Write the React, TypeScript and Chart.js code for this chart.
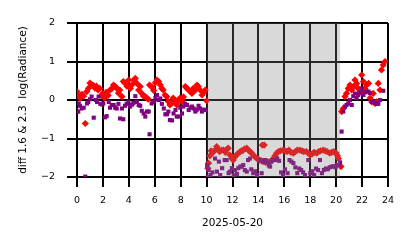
import React, { useEffect, useRef } from "react";
import { Chart, registerables } from "chart.js";

Chart.register(...registerables);

// ---- data ----
const redHours = [
  0.0, 0.12, 0.25, 0.38, 0.5, 0.64, 0.75, 0.88, 1.0, 1.12, 1.25, 1.39, 1.5, 1.62, 1.75, 1.88,
  2.0, 2.12, 2.25, 2.4, 2.55, 2.7, 2.82, 2.96, 3.08, 3.2, 3.3, 3.47, 3.57, 3.73, 3.85, 3.99,
  4.12, 4.25, 4.38, 4.5, 4.63, 4.76, 4.88, 5.0, 5.14, 5.27, 5.4, 5.5, 5.6, 5.79, 5.92, 6.05,
  6.17, 6.3, 6.43, 6.55, 6.65, 6.8, 6.92, 7.05, 7.17, 7.3, 7.42, 7.56, 7.7, 7.8, 7.95, 8.1,
  8.22, 8.36, 8.5, 8.62, 8.75, 8.87, 8.97, 9.1, 9.26, 9.36, 9.5, 9.65, 9.78, 9.9, 10.0,
  10.1, 10.15, 10.25, 10.35, 10.5, 10.65, 10.78, 10.9, 11.0, 11.15, 11.3, 11.45, 11.55, 11.67,
  11.8, 11.94, 12.06, 12.18, 12.3, 12.45, 12.6, 12.72, 12.83, 12.95, 13.1, 13.22, 13.35, 13.48,
  13.6, 13.75, 13.87, 14.0, 14.1, 14.25, 14.3, 14.45, 14.37, 14.55, 14.7, 14.9, 15.05, 15.15,
  15.28, 15.4, 15.55, 15.7, 15.9, 16.05, 16.2, 16.35, 16.5, 16.7, 16.85, 17.0, 17.2, 17.35,
  17.5, 17.7, 17.85, 18.0, 18.15, 18.3, 18.5, 18.65, 18.8, 19.0, 19.15, 19.3, 19.5, 19.65,
  19.8, 20.0, 20.1, 20.17, 20.37,
  20.42, 20.55, 20.68, 20.8, 20.93, 21.06, 21.2, 21.32, 21.45, 21.58, 21.7, 21.83, 21.97, 22.1,
  22.22, 22.35, 22.5, 22.62, 22.75, 22.86, 23.0, 23.12, 23.25, 23.38, 23.5, 23.63, 23.77,
];
const redValues = [
  0.22, 0.12, 0.05, 0.15, 0.1, -0.61, 0.22, 0.3, 0.44, 0.4, 0.38, 0.31, 0.36, 0.26, 0.3, 0.12,
  0.17, 0.05, 0.2, 0.12, 0.26, 0.3, 0.39, 0.35, 0.3, 0.18, 0.26, 0.09, 0.48, 0.43, 0.36, 0.52,
  0.3, 0.4, 0.52, 0.56, 0.43, 0.26, 0.35, 0.17, 0.1, 0.09, 0.05, 0.02, 0.39, 0.33, 0.25, 0.45,
  0.52, 0.48, 0.39, 0.3, 0.26, 0.13, 0.09, -0.04, -0.13, -0.09, 0.05, 0.0, -0.13, -0.04, 0.05, -0.04,
  0.08, 0.35, 0.3, 0.26, 0.22, 0.17, 0.3, 0.25, 0.39, 0.35, 0.26, 0.13, 0.2, 0.26, -0.02,
  -1.77, -1.64, -1.45, -1.32, -1.36, -1.3, -1.21, -1.28, -1.34, -1.3, -1.3, -1.36, -1.28, -1.25,
  -1.43, -1.52, -1.56, -1.48, -1.43, -1.38, -1.34, -1.32, -1.3, -1.27, -1.25, -1.3, -1.34, -1.38,
  -1.43, -1.48, -1.52, -1.54, -1.56, -1.58, -1.17, -1.17, -1.6, -1.62, -1.6, -1.6, -1.56, -1.52,
  -1.45, -1.38, -1.34, -1.32, -1.3, -1.32, -1.34, -1.3, -1.36, -1.38, -1.34, -1.3, -1.3, -1.32,
  -1.34, -1.34, -1.38, -1.43, -1.4, -1.36, -1.38, -1.34, -1.32, -1.3, -1.32, -1.34, -1.38, -1.36,
  -1.34, -1.38, -1.45, -1.52, -1.73,
  -0.3, -0.22, 0.09, 0.17, 0.3, 0.39, 0.26, 0.35, 0.52, 0.43, 0.3, 0.2, 0.65, 0.48,
  0.3, 0.39, 0.43, 0.05, -0.05, 0.17, -0.09, -0.05, 0.43, 0.26, 0.78, 0.91, 1.0,
];

const purpleHours = [
  0.0, 0.1, 0.13, 0.23, 0.36, 0.52, 0.64, 0.77, 0.87, 1.0, 1.13, 1.29, 1.45, 1.55, 1.67, 1.8,
  1.95, 2.03, 2.16, 2.29, 2.45, 2.55, 2.68, 2.83, 2.95, 3.06, 3.2, 3.32, 3.47, 3.57, 3.7, 3.83,
  3.96, 4.1, 4.25, 4.35, 4.5, 4.62, 4.76, 4.88, 5.0, 5.14, 5.27, 5.4, 5.53, 5.6, 5.76, 5.9,
  6.05, 6.17, 6.3, 6.43, 6.55, 6.7, 6.82, 6.95, 7.05, 7.17, 7.33, 7.45, 7.6, 7.7, 7.85, 7.97,
  8.1, 8.2, 8.35, 8.49, 8.62, 8.75, 8.87, 9.0, 9.13, 9.25, 9.38, 9.5, 9.65, 9.78, 9.9,
  10.05, 10.1, 10.15, 10.3, 10.45, 10.65, 10.8, 10.95, 11.05, 11.2, 11.4, 11.55, 11.7, 11.8,
  11.95, 12.1, 12.2, 12.35, 12.45, 12.6, 12.7, 12.83, 12.95, 13.1, 13.2, 13.35, 13.45, 13.6,
  13.75, 13.9, 14.1, 14.25, 14.37, 14.5, 14.65, 14.8, 14.9, 15.0, 15.15, 15.3, 15.45, 15.6,
  15.75, 15.9, 16.05, 16.25, 16.4, 16.55, 16.7, 16.85, 17.0, 17.15, 17.3, 17.45, 17.6, 17.85,
  18.0, 18.15, 18.3, 18.45, 18.6, 18.75, 18.9, 19.05, 19.2, 19.35, 19.5, 19.65, 19.8, 19.95,
  20.05, 20.17, 20.3,
  20.42, 20.55, 20.68, 20.8, 20.93, 21.06, 21.2, 21.32, 21.45, 21.58, 21.7, 21.83, 21.97, 22.1,
  22.22, 22.35, 22.5, 22.6, 22.75, 22.86, 23.0, 23.1, 23.25, 23.38, 23.63,
];
const purpleValues = [
  -0.3, -0.3, -0.09, -0.15, -0.22, -0.2, -1.99, -0.09, -0.05, 0.02, 0.09, -0.46, 0.0, -0.05, 0.09, -0.1,
  -0.12, -0.09, -0.45, -0.42, -0.05, -0.2, -0.13, -0.13, -0.2, -0.22, -0.1, -0.48, -0.22, -0.5, -0.15, -0.1,
  -0.04, -0.17, -0.12, -0.08, 0.1, -0.05, -0.13, -0.15, -0.28, -0.35, -0.43, -0.3, -0.3, -0.89, -0.09, -0.05,
  0.05, 0.13, 0.0, 0.04, -0.1, -0.22, -0.37, -0.37, -0.3, -0.52, -0.53, -0.35, -0.26, -0.43, -0.43, -0.2,
  -0.35, -0.17, -0.1, -0.13, -0.26, -0.2, -0.17, -0.22, -0.3, -0.25, -0.15, -0.22, -0.3, -0.25, -0.26,
  -1.7, -2.0, -1.82, -1.95, -1.88, -1.52, -1.86, -1.6, -1.95, -1.77, -1.56, -1.56, -1.9, -1.86,
  -1.77, -1.95, -1.82, -1.92, -1.77, -1.73, -1.73, -1.69, -1.82, -1.86, -1.56, -1.52, -1.8, -1.9,
  -1.85, -1.95, -1.56, -1.9, -1.6, -1.56, -1.62, -1.7, -1.73, -1.6, -1.56, -1.56, -1.52, -1.58,
  -1.88, -1.95, -1.8, -1.9, -1.56, -1.6, -1.64, -1.75, -1.9, -1.78, -1.82, -1.88, -1.95, -1.56,
  -1.9, -1.85, -1.95, -1.78, -1.82, -1.56, -1.9, -1.82, -1.78, -1.8, -1.75, -1.73, -1.72, -1.75,
  -1.7, -1.69, -1.62,
  -0.82, -0.3, -0.17, -0.13, -0.09, 0.0, -0.13, 0.1, 0.17, 0.05, 0.13, 0.2, 0.3, 0.13,
  0.2, 0.22, 0.22, 0.18, -0.05, -0.04, -0.08, -0.09, -0.1, 0.0, 0.24,
];

const xTickValues = [0, 2, 4, 6, 8, 10, 12, 14, 16, 18, 20, 22, 24];
const yTickValues = [-2, -1, 0, 1, 2];
const shadeStart = 10;
const shadeEnd = 20.3;
const xLabel = "2025-05-20";
const yLabel = "diff 1.6 & 2.3  log(Radiance)";

const FONT = "DejaVu Sans";

const shadePlugin = {
  id: "shade",
  afterDatasetsDraw(chart: any) {
    const { ctx, chartArea, scales } = chart;
    const l = scales.x.getPixelForValue(shadeStart);
    const r = scales.x.getPixelForValue(shadeEnd);
    ctx.save();
    ctx.fillStyle = "rgba(128,128,128,0.3)";
    ctx.fillRect(l, chartArea.top, r - l, chartArea.bottom - chartArea.top);
    ctx.restore();
  },
};

export default function App() {
  const ref = useRef<HTMLCanvasElement | null>(null);

  useEffect(() => {
    document.body.style.margin = "0";
    const canvas = ref.current!;
    const chart = new Chart(canvas, {
      type: "scatter",
      data: {
        datasets: [
          {
            label: "purple",
            data: purpleHours.map((h, i) => ({ x: h, y: purpleValues[i] })),
            backgroundColor: "#800080",
            borderWidth: 0,
            pointStyle: "rect",
            pointRadius: 2.9,
            order: 0,
          },
          {
            label: "red",
            data: redHours.map((h, i) => ({ x: h, y: redValues[i] })),
            backgroundColor: "#ff0000",
            borderWidth: 0,
            pointStyle: "rectRot",
            pointRadius: 3.6,
            order: 1,
          },
        ],
      },
      options: {
        animation: false,
        responsive: false,
        events: [],
        layout: { padding: { left: 17, top: 23, right: 26, bottom: 18 } },
        plugins: { legend: { display: false }, tooltip: { enabled: false } },
        scales: {
          x: {
            type: "linear",
            min: 0,
            max: 24,
            z: 1,
            afterBuildTicks: (s: any) => {
              s.ticks = xTickValues.map((v) => ({ value: v }));
            },
            afterFit: (s: any) => {
              s.height = 53;
            },
            ticks: {
              color: "#000",
              font: { family: FONT, size: 9.5 },
              padding: 8,
              maxRotation: 0,
              autoSkip: false,
            },
            grid: {
              color: "#000",
              lineWidth: 2,
              tickLength: 10,
              tickColor: "#000",
              tickWidth: 2,
            },
            border: { display: false },
            title: {
              display: true,
              text: xLabel,
              color: "#000",
              font: { family: FONT, size: 10.5 },
              padding: { top: 0, bottom: 0 },
            },
          },
          y: {
            type: "linear",
            min: -2,
            max: 2,
            z: 1,
            afterBuildTicks: (s: any) => {
              s.ticks = yTickValues.map((v) => ({ value: v }));
            },
            afterFit: (s: any) => {
              s.width = 60;
            },
            ticks: {
              color: "#000",
              font: { family: FONT, size: 9.5 },
              padding: 12,
              callback: (v: any) => String(v).replace("-", "\u2212"),
            },
            grid: {
              color: "#000",
              lineWidth: 2,
              tickLength: 10,
              tickColor: "#000",
              tickWidth: 2,
            },
            border: { display: false },
            title: {
              display: true,
              text: yLabel,
              color: "#000",
              font: { family: FONT, size: 10.5 },
              padding: { top: 0, bottom: 0 },
            },
          },
        },
      },
      plugins: [shadePlugin],
    });
    return () => chart.destroy();
  }, []);

  return (
    <div style={{ position: "fixed", left: 0, top: 0, width: 414, height: 248, background: "#fff" }}>
      <canvas ref={ref} width={414} height={248} style={{ width: 414, height: 248 }} />
    </div>
  );
}
